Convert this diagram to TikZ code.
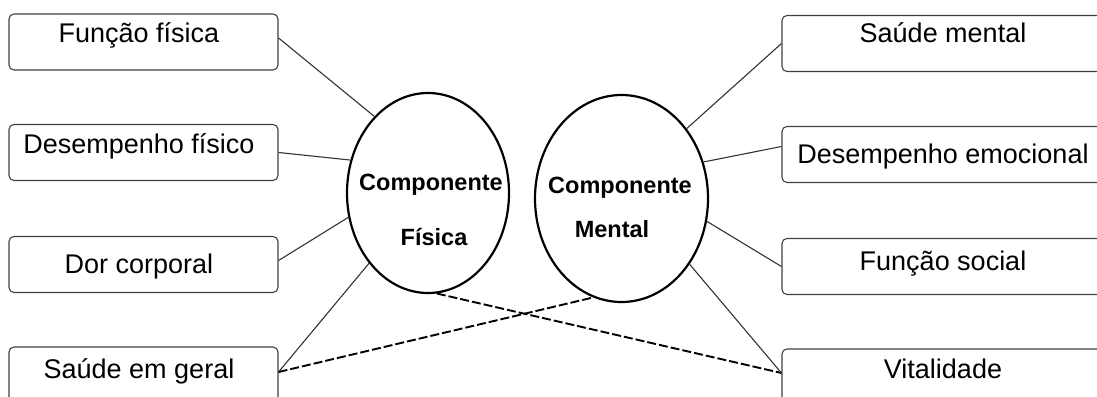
\documentclass[tikz,border=0pt]{standalone}
\usepackage{fontspec}
\setmainfont{Liberation Sans}
\usetikzlibrary{shapes.geometric}
\begin{document}
\begin{tikzpicture}[x=1pt,y=-1pt,
 box/.style={draw=black!75, line width=1.1pt, rounded corners=5pt, minimum width=269pt, minimum height=56pt, inner sep=0pt},
 rbox/.style={box, minimum width=330pt},
 lbl/.style={anchor=base, inner sep=0pt, font=\fontsize{27}{32}\selectfont},
 ell/.style={draw=black, line width=2.2pt, ellipse, inner sep=0pt},
 etxt/.style={anchor=base, inner sep=0pt, font=\fontsize{23.5}{28}\selectfont\bfseries},
 conn/.style={draw=black!80, line width=1.1pt},
 dconn/.style={draw=black, line width=1.9pt, dash pattern=on 9pt off 3pt}]
\useasboundingbox (0,0) rectangle (1097,396);
\clip (0,0) rectangle (1097,396);
% left boxes
\node[box] (L1) at (143.5,42) {};
\node[box] (L2) at (143.5,152.5) {};
\node[box] (L3) at (143.5,264.5) {};
\node[box] (L4) at (143.5,375) {};
\node[lbl] (tL1) at (139,43) {Função física};
\node[lbl] (tL2) at (139,153) {Desempenho físico};
\node[lbl] (tL3) at (139,273) {Dor corporal};
\node[lbl] (tL4) at (139,378) {Saúde em geral};
% right boxes
\node[rbox] (R1) at (947,43.5) {};
\node[rbox] (R2) at (947,154.5) {};
\node[rbox] (R3) at (947,266.5) {};
\node[rbox] (R4) at (947,377) {};
\node[lbl] (tR1) at (943,43) {Saúde mental};
\node[lbl] (tR2) at (943,163) {Desempenho emocional};
\node[lbl] (tR3) at (943,270) {Função social};
\node[lbl] (tR4) at (943,378) {Vitalidade};
% ellipses
\node[ell, minimum width=162pt, minimum height=200pt] (EF) at (428,193) {};
\node[ell, minimum width=173pt, minimum height=207pt] (EM) at (621.5,198.5) {};
\node[etxt] (tEF1) at (431,190) {Componente};
\node[etxt] (tEF2) at (434,245) {Física};
\node[etxt] (tEM1) at (620,193) {Componente};
\node[etxt] (tEM2) at (612,237) {Mental};
% connectors
\draw[conn] ([yshift=4pt]L1.east) -- (EF.125);
\draw[conn] (L2.east) -- (EF.157);
\draw[conn] ([yshift=4pt]L3.east) -- (EF.197);
\draw[conn] ([yshift=3pt]L4.east) -- (EF.230);
\draw[dconn] ([yshift=3pt]L4.east) -- (EM.254);
\draw[dconn] (EF.275) -- ([yshift=4pt]R4.west);
\draw[conn] (R1.west) -- (EM.47);
\draw[conn] ([yshift=8pt]R2.west) -- (EM.24);
\draw[conn] (R3.west) -- (EM.345);
\draw[conn] ([yshift=4pt]R4.west) -- (EM.316);
\end{tikzpicture}
\end{document}
